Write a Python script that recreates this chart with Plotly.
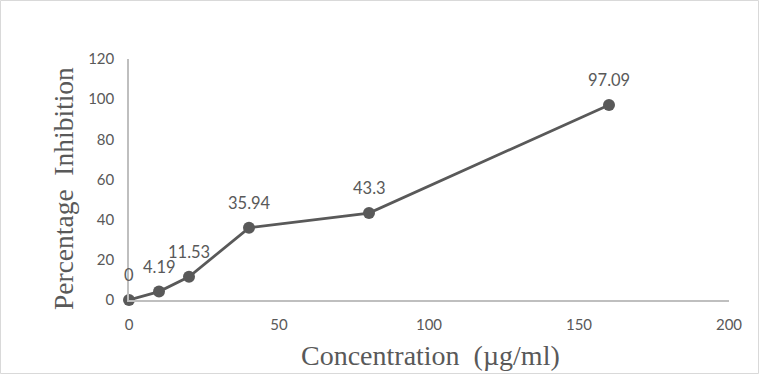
import plotly.graph_objects as go

concentration = [0, 10, 20, 40, 80, 160]
inhibition = [0, 4.19, 11.53, 35.94, 43.3, 97.09]
labels = ["0", "4.19", "11.53", "35.94", "43.3", "97.09"]
x_ticks = [0, 50, 100, 150, 200]
y_ticks = [0, 20, 40, 60, 80, 100, 120]

gray = "#595959"
axis_gray = "#bfbfbf"

fig = go.Figure()
fig.add_trace(go.Scatter(
    x=concentration, y=inhibition, mode="lines+markers",
    line=dict(color=gray, width=2.75),
    marker=dict(color=gray, size=12),
    cliponaxis=False,
    hoverinfo="skip", showlegend=False,
))

for xv, yv, t in zip(concentration, inhibition, labels):
    fig.add_annotation(x=xv, y=yv, text=t, showarrow=False, yshift=25,
                       font=dict(family="Lato", size=16.5, color=gray))

# axis titles as paper-positioned annotations
fig.add_annotation(xref="paper", yref="paper", x=(63-129)/600, y=(300-189)/241,
                   xanchor="center", yanchor="middle", textangle=-90, showarrow=False,
                   text="Percentage  Inhibition",
                   font=dict(family="Liberation Serif", size=27.5, color=gray))
fig.add_annotation(xref="paper", yref="paper", x=(430-129)/600, y=(300-355)/241,
                   xanchor="center", yanchor="middle", showarrow=False,
                   text="Concentration  (µg/ml)",
                   font=dict(family="Liberation Serif", size=28, color=gray))

fig.add_shape(type="rect", xref="paper", yref="paper",
              x0=-128.5/600, x1=(758.5-129)/600, y0=(300-373.5)/241, y1=(300-0.5)/241,
              line=dict(color="#d9d9d9", width=1), layer="below")

fig.update_layout(
    width=759, height=374,
    margin=dict(l=129, r=30, t=59, b=74),
    paper_bgcolor="white", plot_bgcolor="white",
    font=dict(family="Lato", size=15, color=gray),
    xaxis=dict(range=[0, 200], tickvals=x_ticks, showgrid=False, zeroline=False,
               showline=True, linecolor=axis_gray, linewidth=1.5, ticks="",
               ticklabelstandoff=10,
               tickfont=dict(family="Lato", size=15, color=gray)),
    yaxis=dict(range=[0, 120], tickvals=y_ticks, showgrid=False, zeroline=False,
               showline=True, linecolor=axis_gray, linewidth=1.5, ticks="",
               ticklabelstandoff=10,
               tickfont=dict(family="Lato", size=15, color=gray)),
)

fig.write_html("out.html", config={"displayModeBar": False},
               post_script="document.body.style.margin='0';document.body.style.overflow='hidden';")
